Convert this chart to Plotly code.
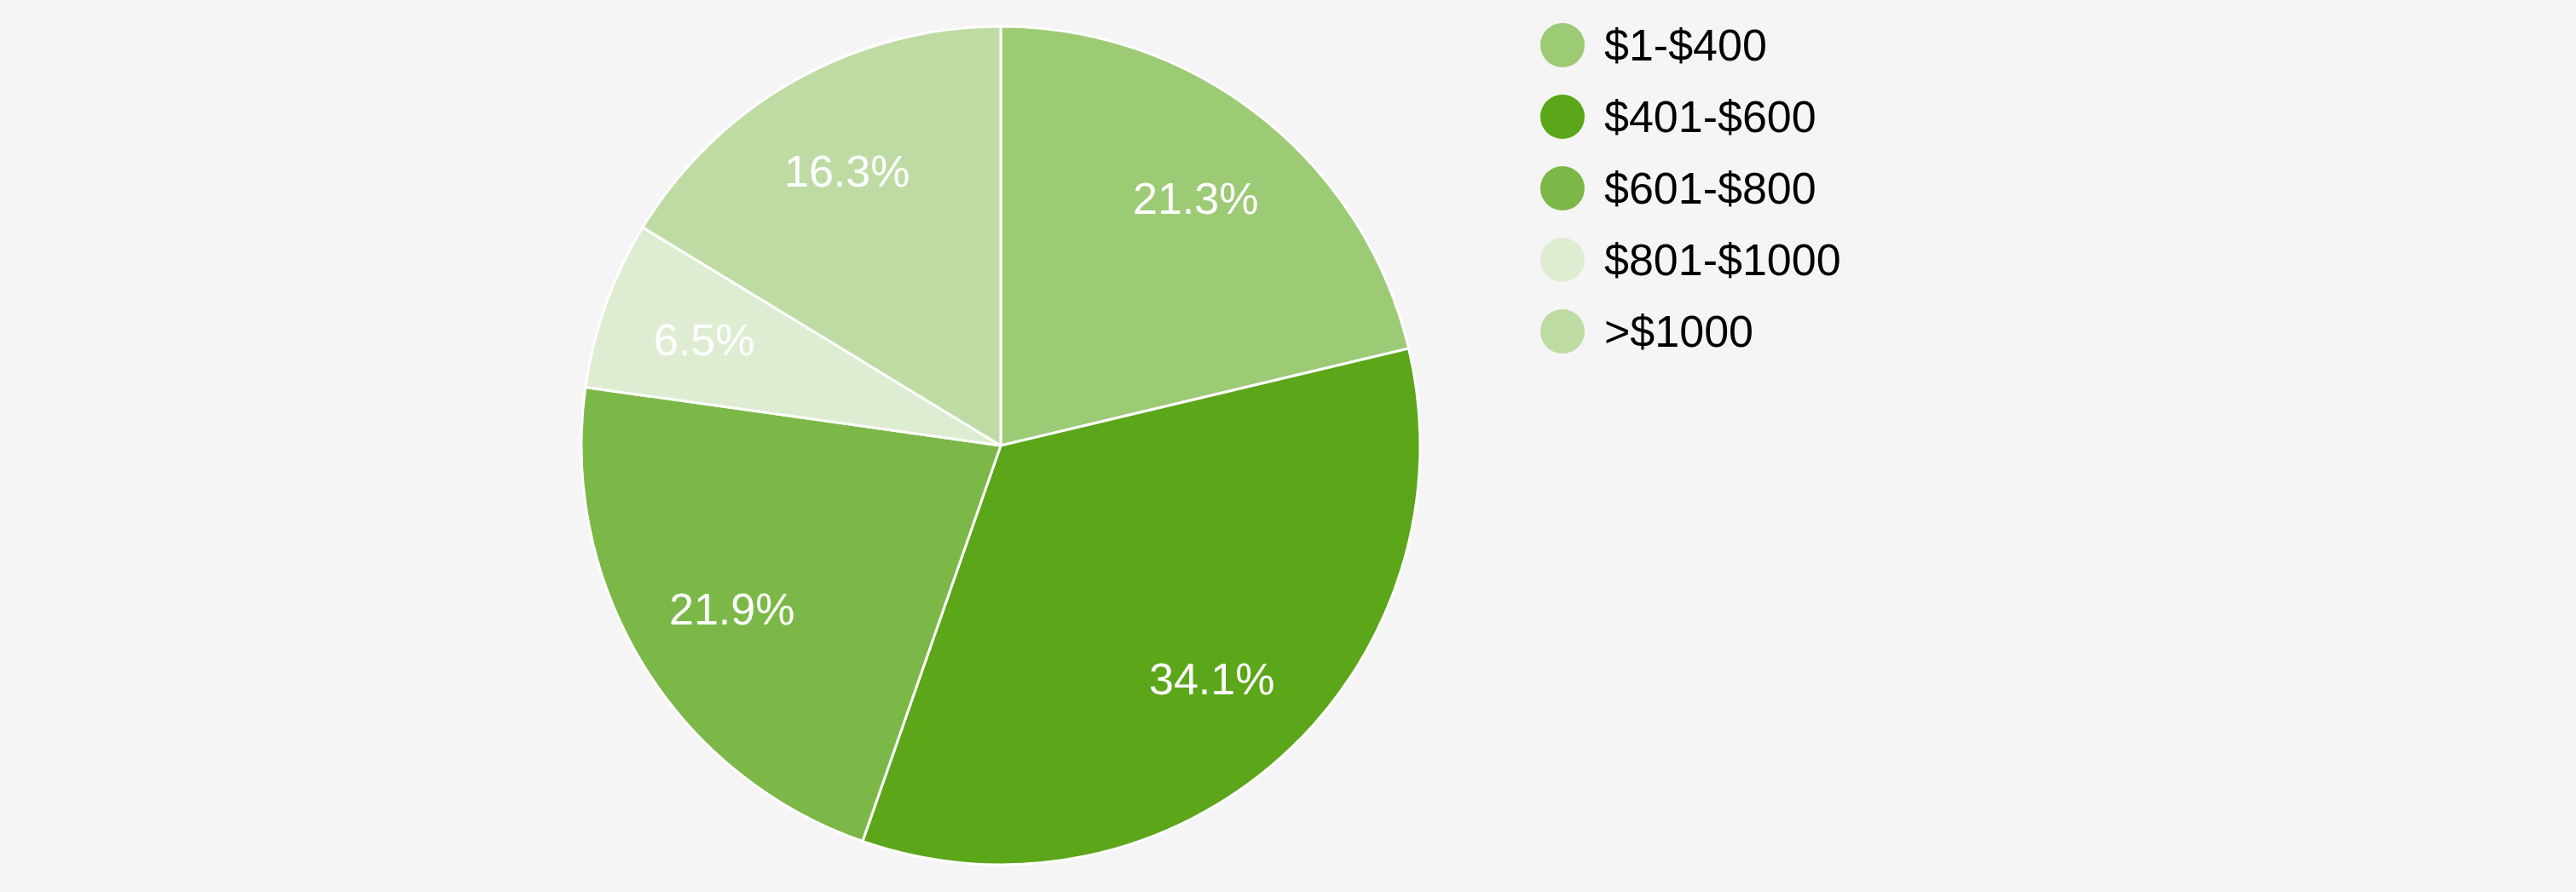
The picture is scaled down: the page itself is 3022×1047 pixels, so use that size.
import math
import plotly.graph_objects as go

# spending buckets and their share (percent, as printed on the slices)
categories = ["$1-$400", "$401-$600", "$601-$800", "$801-$1000", ">$1000"]
shares = [21.3, 34.1, 21.9, 6.5, 16.3]
colors = ["#9dca75", "#5ba619", "#7cb848", "#deedd2", "#bedba4"]

W, H = 3022, 1047
font_family = "Liberation Sans, Arial, Helvetica, sans-serif"

# pie geometry in pixels
cx, cy, r = 1174, 523, 492
pie_x = [(cx - 570) / W, (cx + 570) / W]
pie_y = [1 - (cy + r) / H, 1 - (cy - r) / H]

fig = go.Figure()

fig.add_trace(go.Pie(
    labels=categories,
    values=shares,
    sort=False,
    direction="clockwise",
    rotation=0,
    marker=dict(colors=colors, line=dict(color="white", width=3)),
    textinfo="none",
    domain=dict(x=pie_x, y=pie_y),
    showlegend=False,
    hoverinfo="label+percent",
))

# percent labels sit at 3/4 of the radius, in the middle of each slice
total = sum(shares)
start = 0.0
for s in shares:
    mid = (start + s / 2) / total * 2 * math.pi
    start += s
    px = cx + 0.75 * r * math.sin(mid)
    py = cy - 0.75 * r * math.cos(mid)
    fig.add_annotation(
        x=px / W, y=1 - py / H, xref="paper", yref="paper",
        xanchor="center", yanchor="middle",
        text="%.1f%%" % (s / total * 100), showarrow=False,
        font=dict(size=52, color="white", family=font_family),
    )

# hand-made legend: big round swatches, one row per category
rows = list(range(len(categories)))
fig.add_trace(go.Scatter(
    x=[0] * len(categories),
    y=rows,
    mode="markers",
    marker=dict(size=52, color=colors, symbol="circle"),
    hoverinfo="skip",
    showlegend=False,
))
for i, name in enumerate(categories):
    fig.add_annotation(
        x=1880 / W, xref="paper", xanchor="left",
        y=i, yref="y", yanchor="middle",
        text=name, showarrow=False,
        font=dict(size=52, color="black", family=font_family),
    )

# row i sits at 53 + 84*i px from the top
top_px, row_px = 53, 84
fig.update_xaxes(domain=[1833 / W - 0.01, 1833 / W + 0.01], range=[-1, 1], visible=False, fixedrange=True)
fig.update_yaxes(domain=[0, 1], range=[(H - top_px) / row_px, -top_px / row_px],
                 visible=False, fixedrange=True)

fig.update_layout(
    width=W, height=H,
    margin=dict(l=0, r=0, t=0, b=0),
    paper_bgcolor="#f5f5f5",
    plot_bgcolor="rgba(0,0,0,0)",
    font=dict(family=font_family),
)

fig.write_html("out.html", config={"displayModeBar": False},
               post_script="document.body.style.margin='0';")
